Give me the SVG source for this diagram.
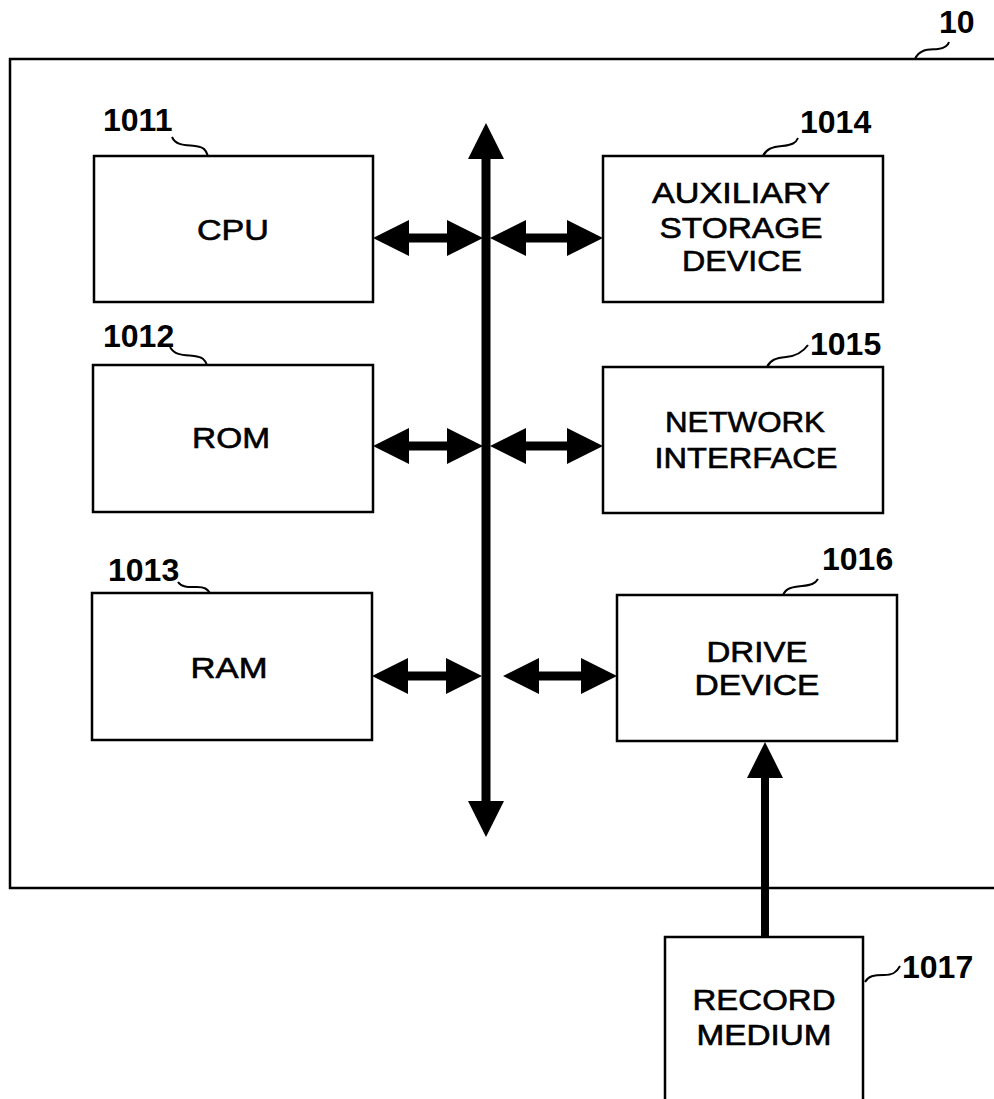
<svg xmlns="http://www.w3.org/2000/svg" width="994" height="1099" viewBox="0 0 994 1099">
<style>
.box{fill:#fff;stroke:#000;stroke-width:2.5}
.frame{fill:none;stroke:#000;stroke-width:2.5}
.lbl{font-family:"Liberation Sans",Arial,sans-serif;font-size:29px;text-anchor:middle;fill:#000;stroke:#000;stroke-width:0.6}
.ref{font-family:"Liberation Sans",Arial,sans-serif;font-size:32px;font-weight:bold;fill:#000}
.lead{fill:none;stroke:#000;stroke-width:2}
.arr{fill:#000;stroke:none}
</style>
<rect width="994" height="1099" fill="#fff"/>
<g id="system-10">
<path class="frame" d="M994,59 H10 V888 H994"/>
<path class="lead" d="M915,59 C920,48 930,50 938,49 C945,48 948,46 949,42"/>
<text class="ref" x="939" y="33">10</text>
</g>
<g id="cpu">
<rect class="box" x="94" y="156" width="279" height="146"/>
<text class="lbl" x="233" y="240" textLength="72" lengthAdjust="spacingAndGlyphs">CPU</text>
<path class="lead" d="M172,137 C176,146 186,145 195,146 C204,147 206,150 208,156"/>
<text class="ref" x="103" y="131">1011</text>
</g>
<g id="rom">
<rect class="box" x="93" y="365" width="280" height="147"/>
<text class="lbl" x="231" y="448" textLength="78" lengthAdjust="spacingAndGlyphs">ROM</text>
<path class="lead" d="M170,347 C175,356 185,355 194,356 C203,357 205,360 207,365"/>
<text class="ref" x="103" y="347">1012</text>
</g>
<g id="ram">
<rect class="box" x="92" y="593" width="280" height="147"/>
<text class="lbl" x="229" y="678" textLength="77" lengthAdjust="spacingAndGlyphs">RAM</text>
<path class="lead" d="M178,582 C182,588 190,587 197,587 C205,587 207,589 210,593"/>
<text class="ref" x="108" y="581">1013</text>
</g>
<g id="aux-storage">
<rect class="box" x="603" y="156" width="280" height="146"/>
<text class="lbl" x="741" y="203" textLength="178" lengthAdjust="spacingAndGlyphs">AUXILIARY</text>
<text class="lbl" x="741" y="238" textLength="163" lengthAdjust="spacingAndGlyphs">STORAGE</text>
<text class="lbl" x="742" y="271" textLength="120" lengthAdjust="spacingAndGlyphs">DEVICE</text>
<path class="lead" d="M763,156 C766,149 772,147 782,146 C792,145 796,143 798,138"/>
<text class="ref" x="800" y="133">1014</text>
</g>
<g id="network-interface">
<rect class="box" x="603" y="367" width="280" height="146"/>
<text class="lbl" x="745" y="432" textLength="160" lengthAdjust="spacingAndGlyphs">NETWORK</text>
<text class="lbl" x="746" y="468" textLength="183" lengthAdjust="spacingAndGlyphs">INTERFACE</text>
<path class="lead" d="M767,367 C770,360 776,358 786,357 C797,356 803,352 808,345"/>
<text class="ref" x="810" y="355">1015</text>
</g>
<g id="drive-device">
<rect class="box" x="617" y="595" width="280" height="146"/>
<text class="lbl" x="757" y="662" textLength="101" lengthAdjust="spacingAndGlyphs">DRIVE</text>
<text class="lbl" x="757" y="695" textLength="125" lengthAdjust="spacingAndGlyphs">DEVICE</text>
<path class="lead" d="M783,595 C786,588 792,587 802,586 C811,585 815,584 818,579"/>
<text class="ref" x="822" y="570">1016</text>
</g>
<g id="record-medium">
<rect class="box" x="665" y="937" width="198" height="165"/>
<text class="lbl" x="764" y="1010" textLength="143" lengthAdjust="spacingAndGlyphs">RECORD</text>
<text class="lbl" x="764" y="1045" textLength="135" lengthAdjust="spacingAndGlyphs">MEDIUM</text>
<path class="lead" d="M865,982 C868,976 874,975 884,975 C893,975 897,972 900,966"/>
<text class="ref" x="902" y="978">1017</text>
</g>
<g id="connectors">
<polygon class="arr" points="486,123 504,159 490.5,159 490.5,801 504,801 486,837 468,801 481.5,801 481.5,159 468,159"/>
<polygon class="arr" points="373,238 409,220 409,233.5 447,233.5 447,220 483,238 447,256 447,242.5 409,242.5 409,256"/>
<polygon class="arr" points="490,238 526,220 526,233.5 567,233.5 567,220 603,238 567,256 567,242.5 526,242.5 526,256"/>
<polygon class="arr" points="373,446 409,428 409,441.5 447,441.5 447,428 483,446 447,464 447,450.5 409,450.5 409,464"/>
<polygon class="arr" points="490,446 526,428 526,441.5 567,441.5 567,428 603,446 567,464 567,450.5 526,450.5 526,464"/>
<polygon class="arr" points="372,676 408,658 408,671.5 446,671.5 446,658 482,676 446,694 446,680.5 408,680.5 408,694"/>
<polygon class="arr" points="503,676 539,658 539,671.5 581,671.5 581,658 617,676 581,694 581,680.5 539,680.5 539,694"/>
<polygon class="arr" points="765,742 783,778 769,778 769,937 761,937 761,778 747,778"/>
</g>
</svg>
